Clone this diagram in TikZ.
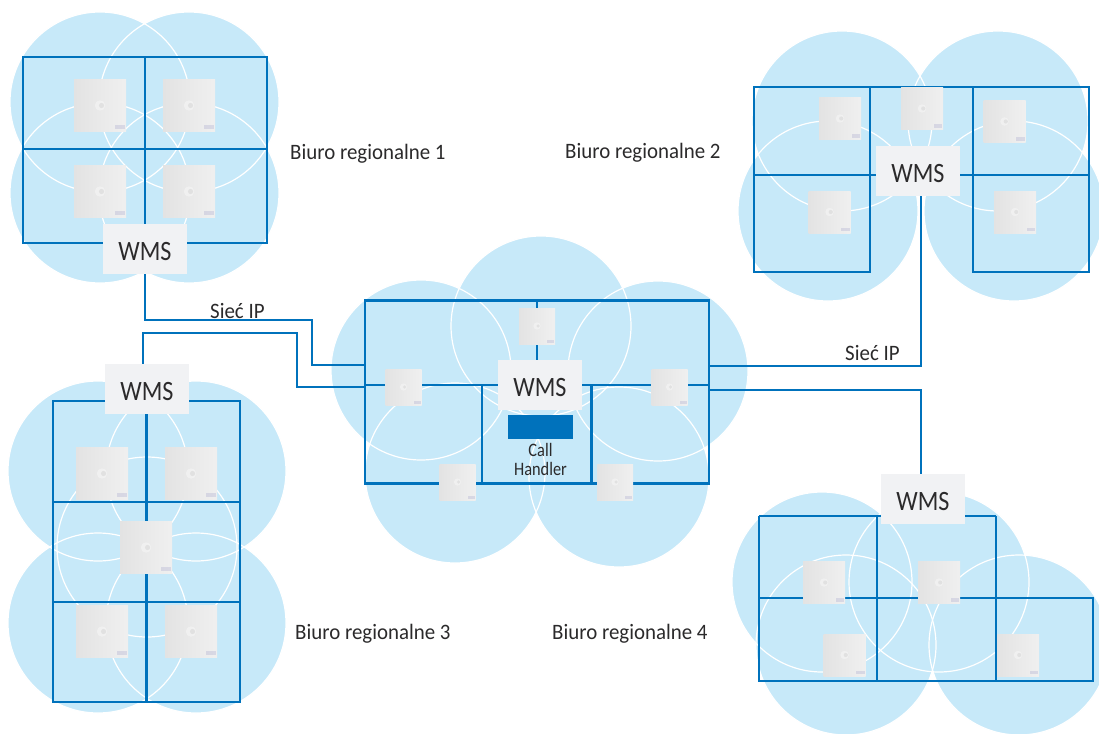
\documentclass[tikz,border=0pt]{standalone}
\usepackage{fontspec}
\setmainfont{Carlito}
\newfontfamily\narrowfont[FakeStretch=0.86]{Carlito}
\newfontfamily\labelfont[FakeStretch=0.95]{Carlito}
\definecolor{cellblue}{HTML}{C7E9F9}
\definecolor{wireblue}{HTML}{0072BC}
\definecolor{boxgray}{HTML}{F1F2F4}
\definecolor{txtgray}{HTML}{2B2A2B}
\tikzset{
  cell/.style={fill=cellblue},
  rim/.style={draw=white,line width=1.2pt},
  wire/.style={draw=wireblue,line width=2.6pt},
  floorbox/.style={wire,shape=rectangle,inner sep=0pt,outer sep=0pt},
  link/.style={draw=wireblue,line width=2.2pt},
  wms/.style={shape=rectangle,fill=boxgray,minimum width=84pt,minimum height=50pt,inner sep=0pt,text height=23.5pt,text depth=0pt,text=txtgray,font=\narrowfont\fontsize{28}{28}\selectfont},
  lbl/.style={anchor=west,inner sep=0pt,yshift=-2pt,text=txtgray,font=\labelfont\fontsize{22}{22}\selectfont},
  ap/.style={shape=rectangle,minimum size=#1,inner sep=0pt,left color=black!11,right color=black!6,
    path picture={
      \fill[white,opacity=.35] (path picture bounding box.center) circle (#1*0.1);
      \fill[black!25,opacity=.3] ([xshift=#1*0.03]path picture bounding box.center) circle (#1*0.05);
      \fill[blue!30!gray,opacity=.15] ([xshift=-#1*0.22,yshift=#1*0.04]path picture bounding box.south east) rectangle ++(#1*0.2,#1*0.08);
    }}
}
\begin{document}
\begin{tikzpicture}[x=1pt,y=-1pt]
\useasboundingbox (0,0) rectangle (1099,733);
\clip (0,0) rectangle (1099,733);

% coverage circles
\foreach \cx/\cy in {100/102,189/102,100/193,189/193,
    98/471,196/471,147/547,98/623,196/623,
    842/121,998/121,828/211,1014/211,
    421/370,541/326,658/371,455/473,619/477,
    822/582,939/582,846/645,1019/645}
  \fill[cell] (\cx,\cy) circle (90pt);
\foreach \cx/\cy in {100/102,189/102,100/193,189/193,
    98/471,196/471,147/547,98/623,196/623,
    842/121,998/121,828/211,1014/211,
    421/370,541/326,658/371,455/473,619/477,
    822/582,939/582,846/645,1019/645}
  \draw[rim] (\cx,\cy) circle (90pt);

% office 1
\node[floorbox,minimum width=244pt,minimum height=186pt] (floorA) at (145,150) {};
\draw[wire] (145,57) -- (145,243);
\draw[wire] (23,149) -- (267,149);

% office 3
\node[floorbox,minimum width=187pt,minimum height=301pt] (floorC) at (146.5,551.5) {};
\draw[wire] (146.5,401) -- (146.5,702);
\draw[wire] (53,502) -- (240,502);
\draw[wire] (53,602) -- (240,602);

% office 2
\node[floorbox,minimum width=116pt,minimum height=185pt] (floorBl) at (812,179.5) {};
\node[floorbox,minimum width=116pt,minimum height=185pt] (floorBr) at (1031,179.5) {};
\draw[wire] (870,87) -- (973,87);
\draw[wire] (754,175) -- (1089,175);

% main office
\node[floorbox,minimum width=344pt,minimum height=183pt] (floorM) at (537,392) {};
\draw[wire] (365,385) -- (709,385);
\draw[wire] (537,300) -- (537,360);
\draw[wire] (482,385) -- (482,484);
\draw[wire] (591.5,385) -- (591.5,484);

% office 4
\draw[wire] (759,516) -- (996,516);
\draw[wire] (759,598) -- (1093,598) -- (1093,681) -- (759,681) -- cycle;
\draw[wire] (759,516) -- (759,598);
\draw[wire] (877,516) -- (877,681);
\draw[wire] (996,516) -- (996,681);

% access points
\foreach \n/\cx/\cy in {a/100/105.5,b/189/105.5,c/100/191.5,d/189/191.5,
    e/102/473.5,f/191/473.5,g/146/547.5,h/102/631.5,i/191/631.5}
  \node[ap=52pt] (ap\n) at (\cx,\cy) {};
\foreach \n/\cx/\cy in {j/840/118.5,k/922/108.5,l/1004.5/121.5,m/829.5/212,n/1015/212,
    o/824/582.5,p/939/582.5,q/844.5/655,r/1018/655}
  \node[ap=42pt] (ap\n) at (\cx,\cy) {};
\foreach \n/\cx/\cy in {s/537/326,t/403.5/387,u/669.5/387,v/457.5/482,w/615/482}
  \node[ap=36pt] (ap\n) at (\cx,\cy) {};

% controllers
\node[wms] (wmsA) at (145,249) {WMS};
\node[wms] (wmsB) at (918,171) {WMS};
\node[wms] (wmsC) at (147,389) {WMS};
\node[wms] (wmsD) at (923,499) {WMS};
\node[wms] (wmsM) at (540,385) {WMS};
\node[shape=rectangle,fill=wireblue,minimum width=65pt,minimum height=24pt,inner sep=0pt] (handler) at (540.5,427) {};
\node[below=4pt,inner sep=0pt,text=txtgray,align=center,font=\narrowfont\fontsize{19}{19}\selectfont] (handlertxt) at (handler.south) {Call\\Handler};

% uplinks
\coordinate (bendAa) at (145,320);
\coordinate (bendAb) at (312,365);
\coordinate (inA) at (365,365);
\draw[link] (wmsA.south) -- (bendAa) -| (bendAb) -- (inA);
\coordinate (bendCa) at (143,333);
\coordinate (bendCb) at (297,387);
\coordinate (inC) at (365,387);
\draw[link] (bendCa |- wmsC.north) -- (bendCa) -| (bendCb) -- (inC);
\coordinate (bendB) at (921,366);
\coordinate (inB) at (709,366);
\draw[link] (bendB |- wmsB.south) -- (bendB) -- (inB);
\coordinate (bendD) at (921,390);
\coordinate (inD) at (709,390);
\draw[link] (bendD |- wmsD.north) -- (bendD) -- (inD);

% labels
\node[lbl] (ofA) at (290,152) {Biuro regionalne 1};
\node[lbl] (ofB) at (565,151) {Biuro regionalne 2};
\node[lbl] (ofC) at (295,632) {Biuro regionalne 3};
\node[lbl] (ofD) at (552,632) {Biuro regionalne 4};
\node[lbl] (netA) at (210,309) {Sieć IP};
\node[lbl] (netB) at (845,351) {Sieć IP};
\end{tikzpicture}
\end{document}
